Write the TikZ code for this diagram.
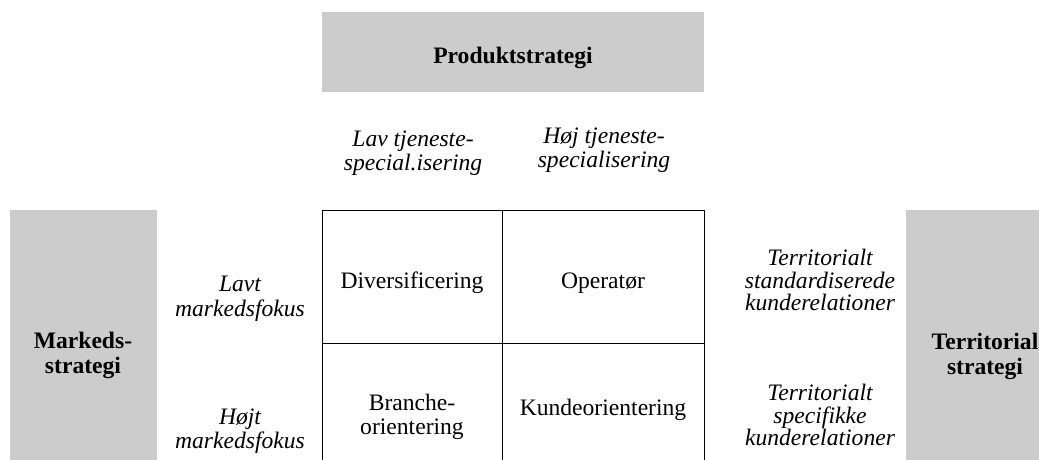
\documentclass[tikz,border=0pt]{standalone}
\usepackage{fontspec}
\setmainfont{Liberation Serif}
\definecolor{boxgray}{RGB}{204,204,204}
\begin{document}
\begin{tikzpicture}[x=1pt,y=-1pt,
  txt/.style={inner sep=0pt,align=center,font=\fontsize{23.6}{24.5}\selectfont},
  itx/.style={txt,font=\fontsize{23.6}{24.5}\selectfont\itshape},
  itr/.style={txt,font=\fontsize{23.6}{22.5}\selectfont\itshape},
  bfx/.style={txt,font=\fontsize{23.6}{25}\selectfont\bfseries},
  graybox/.style={fill=boxgray,draw=none,inner sep=0pt},
  cell/.style={draw=black,line width=0.9pt,inner sep=0pt,minimum height=133pt}]
\useasboundingbox (0,0) rectangle (1039,459);
\clip (0,0) rectangle (1039,459);
% gray boxes
\node[graybox,minimum width=382pt,minimum height=80pt] (prodbox) at (513,52) {};
\node[graybox,minimum width=147pt,minimum height=270pt] (markbox) at (83.5,345) {};
\node[graybox,minimum width=158pt,minimum height=270pt] (terrbox) at (985,345) {};
\node[bfx] (prod) at (513,58) {Produktstrategi};
\node[bfx] (mark) at (83,355) {Markeds-\\strategi};
\node[bfx] (terr) at (985,356) {Territorial\\strategi};
% grid cells
\node[cell,minimum width=180pt] (c11) at (412,276.5) {};
\node[cell,minimum width=202pt] (c12) at (603,276.5) {};
\node[cell,minimum width=180pt] (c21) at (412,409.5) {};
\node[cell,minimum width=202pt] (c22) at (603,409.5) {};
% cell texts
\node[txt] (div) at (412,283) {Diversificering};
\node[txt] (ope) at (603,283) {Operatør};
\node[txt] (bra) at (412,417) {Branche-\\orientering};
\node[txt] (kun) at (603,410) {Kundeorientering};
% column labels
\node[itx] (lav) at (413,153) {Lav tjeneste-\\special.isering};
\node[itx] (hoj) at (604,150) {Høj tjeneste-\\specialisering};
% row labels
\node[itx] (lavt) at (240,299) {Lavt\\markedsfokus};
\node[itx] (hojt) at (240,431) {Højt\\markedsfokus};
% right labels
\node[itr] (tstd) at (820,280) {Territorialt\\standardiserede\\kunderelationer};
\node[itr] (tspe) at (820,415) {Territorialt\\specifikke\\kunderelationer};
\end{tikzpicture}
\end{document}
